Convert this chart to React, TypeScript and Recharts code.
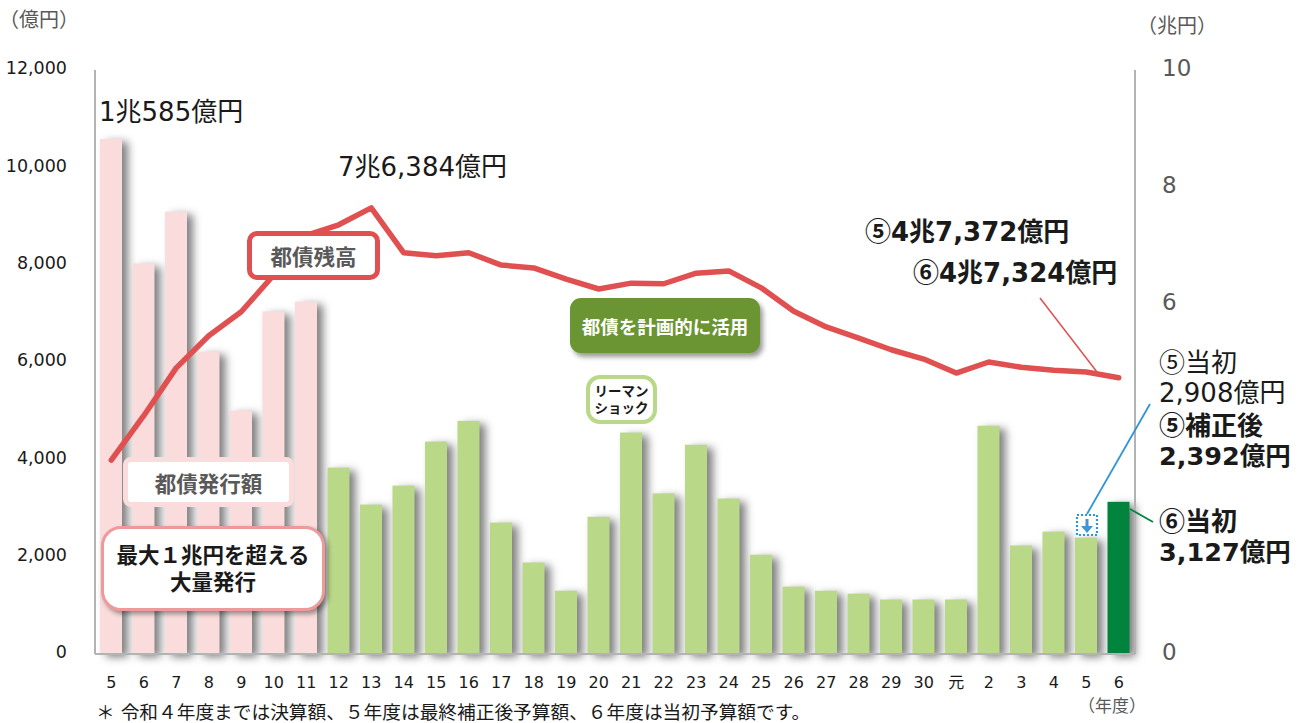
import React from "react";
import { Bar, ComposedChart, Line, XAxis, YAxis } from "recharts";

const years = ["5","6","7","8","9","10","11","12","13","14","15","16","17","18","19","20","21","22","23","24","25","26","27","28","29","30","元","2","3","4","5","6"];
const issuance = [10585,8020,9090,6210,5000,7040,7240,3830,3070,3460,4365,4790,2700,1880,1300,2820,4550,3300,4300,3195,2040,1385,1300,1240,1120,1120,1120,4690,2230,2515,2392,3127];
const balance = [3.32,4.08,4.90,5.45,5.86,6.49,7.17,7.35,7.64,6.87,6.82,6.87,6.66,6.61,6.42,6.25,6.35,6.34,6.52,6.56,6.27,5.87,5.60,5.41,5.21,5.05,4.81,5.00,4.91,4.86,4.83,4.73];
const leftTicks = [0,2000,4000,6000,8000,10000,12000];
const rightTicks = [0,6,8,10];

const data = years.map((year, i) => ({ year, issuance: issuance[i], balance: balance[i] }));

const FONT = '"DejaVu Sans", "Noto Sans CJK JP", sans-serif';
const CJK = '"Noto Sans CJK JP", sans-serif';
const AXIS = "#b3b3b3";

function barColor(i: number) {
  if (i < 7) return "#fadcdc";
  if (i === years.length - 1) return "#00843d";
  return "#b9d888";
}

function ShadowBar(props: any) {
  const { x, y, width, height, index } = props;
  return (
    <rect
      x={x}
      y={y}
      width={width}
      height={height}
      fill={barColor(index)}
      style={{ filter: "drop-shadow(6px 3px 4px rgba(0,0,0,0.5))" }}
    />
  );
}

function Txt({ x, y, size, bold, color, children }: any) {
  return (
    <div
      style={{
        position: "absolute",
        left: x,
        top: y,
        transform: "translateY(-50%)",
        fontSize: size,
        fontWeight: bold ? 700 : 400,
        color: color || "#1a1a1a",
        whiteSpace: "nowrap",
        lineHeight: 1,
      }}
    >
      {children}
    </div>
  );
}

// the circled digits are tiny in DejaVu
function Num({ children }: any) {
  return <span style={{ fontFamily: CJK }}>{children}</span>;
}

function Box({ x, y, w, h, style, children }: any) {
  return (
    <div
      style={{
        position: "absolute",
        left: x,
        top: y,
        width: w,
        height: h,
        boxSizing: "border-box",
        display: "flex",
        alignItems: "center",
        justifyContent: "center",
        textAlign: "center",
        fontWeight: 700,
        whiteSpace: "nowrap",
        ...style,
      }}
    >
      <div>{children}</div>
    </div>
  );
}

export default function App() {
  return (
    <div style={{ position: "absolute", left: 0, top: 0, width: 1305, height: 723, overflow: "hidden", fontFamily: FONT, background: "#fff" }}>
      <ComposedChart
        width={1305}
        height={723}
        data={data}
        margin={{ top: 70, right: 0, bottom: 0, left: 0 }}
      >
        <XAxis
          dataKey="year"
          interval={0}
          tickLine={false}
          tickMargin={17}
          stroke={AXIS}
          strokeWidth={2}
          height={69}
          tick={{ fontSize: 16, fill: "#1a1a1a", fontFamily: FONT }}
        />
        <YAxis
          yAxisId="left"
          width={95}
          domain={[0, 12000]}
          ticks={leftTicks}
          interval={0}
          tickSize={0}
          tickMargin={28}
          stroke={AXIS}
          strokeWidth={2}
          tickFormatter={(v: number) => v.toLocaleString("en-US")}
          tick={{ fontSize: 17.5, fill: "#1a1a1a", fontFamily: FONT, dy: -2 }}
        />
        <YAxis
          yAxisId="right"
          orientation="right"
          width={170}
          domain={[0, 10]}
          ticks={rightTicks}
          interval={0}
          tickSize={0}
          tickMargin={27}
          stroke={AXIS}
          strokeWidth={2}
          tick={{ fontSize: 23, fill: "#595959", fontFamily: FONT, dy: -2 }}
        />
        <Bar yAxisId="left" dataKey="issuance" barSize={22} shape={ShadowBar} isAnimationActive={false} />
        <Line
          yAxisId="right"
          dataKey="balance"
          stroke="#e05050"
          strokeWidth={5.5}
          strokeLinecap="round"
          strokeLinejoin="round"
          dot={false}
          isAnimationActive={false}
        />
      </ComposedChart>

      <svg width={1305} height={723} style={{ position: "absolute", left: 0, top: 0 }}>
        <line x1={1040} y1={298} x2={1097} y2={372} stroke="#e05050" strokeWidth={1.5} />
        <line x1={1150} y1={404} x2={1087} y2={514} stroke="#2e96d6" strokeWidth={1.8} />
        <line x1={1130} y1={509} x2={1153} y2={522} stroke="#00843d" strokeWidth={1.8} />
        <rect x={1077} y={515} width={20} height={20} fill="#fff" stroke="#2e96d6" strokeWidth={2.2} strokeDasharray="2 2" />
        <rect x={1085.5} y={519} width={3} height={8} fill="#3f96d2" />
        <path d="M1081 526 L1093 526 L1087 533 Z" fill="#3f96d2" />
      </svg>

      <Txt x={-1} y={20} size={20} color="#595959">（億円）</Txt>
      <Txt x={1137} y={26} size={20} color="#595959">（兆円）</Txt>
      <Txt x={1078} y={706} size={17} color="#595959">（年度）</Txt>
      <Txt x={99} y={112} size={26}>1兆585億円</Txt>
      <Txt x={338} y={167} size={26}>7兆6,384億円</Txt>
      <Txt x={865} y={231} size={26} bold><Num>⑤</Num>4兆7,372億円</Txt>
      <Txt x={913} y={272} size={26} bold><Num>⑥</Num>4兆7,324億円</Txt>
      <Txt x={1159} y={362} size={26}><Num>⑤</Num>当初</Txt>
      <Txt x={1159} y={393} size={26}>2,908億円</Txt>
      <Txt x={1159} y={425} size={26} bold><Num>⑤</Num>補正後</Txt>
      <Txt x={1159} y={457} size={25.5} bold>2,392億円</Txt>
      <Txt x={1159} y={521} size={26} bold><Num>⑥</Num>当初</Txt>
      <Txt x={1159} y={553} size={25.5} bold>3,127億円</Txt>
      <Txt x={96} y={713} size={18.7}>＊ 令和４年度までは決算額、５年度は最終補正後予算額、６年度は当初予算額です。</Txt>

      <Box x={247} y={231} w={133} h={49} style={{ background: "#fff", border: "5px solid #e05050", borderRadius: 10, fontSize: 21.5, color: "#595959" }}>都債残高</Box>
      <Box x={123} y={457} w={171} h={50} style={{ background: "#fff", border: "5px solid #fbdcdc", borderRadius: 8, fontSize: 21.5, color: "#595959" }}>都債発行額</Box>
      <Box x={101} y={526} w={224} h={85} style={{ background: "#fff", border: "3px solid #ee9a9a", borderRadius: 20, fontSize: 21.5, color: "#1a1a1a", lineHeight: "27px", boxShadow: "3px 3px 5px rgba(0,0,0,0.4)" }}>最大１兆円を超える<br />大量発行</Box>
      <Box x={570} y={298} w={190} h={55} style={{ background: "#6b9432", borderRadius: 11, fontSize: 18.5, color: "#fff", boxShadow: "3px 4px 5px rgba(0,0,0,0.4)" }}>都債を計画的に活用</Box>
      <Box x={586} y={375} w={71} h={49} style={{ background: "#fff", border: "4px solid #b9d888", borderRadius: 14, fontSize: 13.5, color: "#1a1a1a", lineHeight: "17px" }}>リーマン<br />ショック</Box>
    </div>
  );
}
